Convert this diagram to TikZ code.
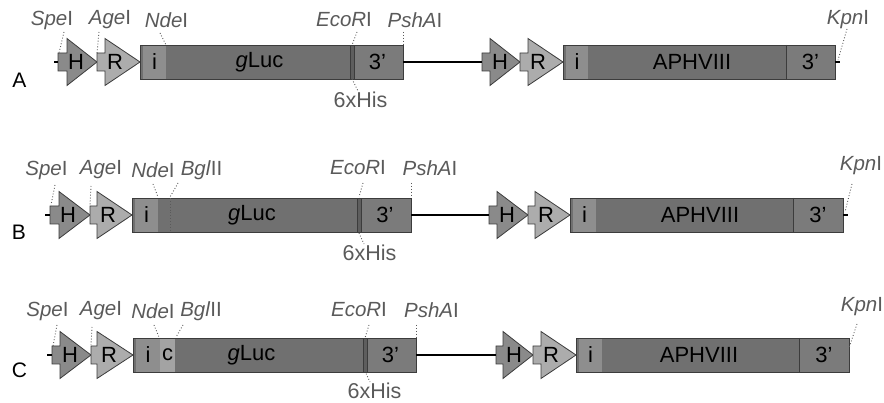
\documentclass[tikz,border=0pt]{standalone}
\usepackage{fontspec}
\setmainfont{Liberation Sans}
\begin{document}
\begin{tikzpicture}[x=1pt,y=-1pt,
  seg/.style={fill=#1,draw=none,rectangle,inner sep=0pt,outer sep=0pt,minimum height=34pt,anchor=west,font=\fontsize{22}{25}\selectfont},
  boxline/.style={draw=cborder,line width=0.9pt},
  promo/.style={draw=cborder,line width=0.8pt,fill=#1},
  txt/.style={inner sep=0pt,font=\fontsize{22}{25}\selectfont},
  site/.style={inner sep=0pt,text=clabel,font=\fontsize{20.5}{24}\selectfont},
  row/.style={inner sep=0pt,font=\fontsize{21}{24}\selectfont},
  leader/.style={draw=clabel,dotted,line width=0.9pt},
  link/.style={draw=black,line width=2.6pt},
  hisbar/.style={draw=cborder,fill=chis,line width=0.8pt}]
\definecolor{cgl}{HTML}{707070}
\definecolor{ci}{HTML}{8E8E8E}
\definecolor{cthree}{HTML}{7B7B7B}
\definecolor{cH}{HTML}{8A8A8A}
\definecolor{cR}{HTML}{ACACAC}
\definecolor{cc}{HTML}{A3A3A3}
\definecolor{cborder}{HTML}{3C3C3C}
\definecolor{clabel}{HTML}{5A5A5A}
\definecolor{chis}{HTML}{5E5E5E}
\useasboundingbox (0,0) rectangle (884,403);

% promoter shape: name, x0, xr, xa, cy, text, fill
\newcommand\prom[7]{%
  \coordinate (#1in) at (#2,#5);
  \draw[promo=#7] (#2,#5-9) -- (#3,#5-9) -- (#3,#5-23.5) -- (#4,#5) -- (#3,#5+23.5) -- (#3,#5+9) -- (#2,#5+9) -- cycle;
  \node[txt] (#1) at (#2+18,#5) {#6};}

% box1: name, xb, xi, xe, x3, cy, gluc text x
\newcommand\boxone[7]{%
  \node[seg=cgl,minimum width={(#4-#2)*1pt}] (#1body) at (#2,#6) {};
  \node[seg=ci,minimum width={(#3-#2-3)*1pt}] (#1i) at (#2+3,#6) {i};
  \node[txt] (#1g) at (#7,#6) {\textit{g}Luc};
  \node[seg=cthree,minimum width={(#5-#4)*1pt}] (#1three) at (#4,#6) {3’};
  \draw[boxline] (#1body.north west) rectangle (#1three.south east);
  \draw[hisbar] (#4-2,#6-17) rectangle (#4+2,#6+17);}

% box2: name, xb, xi, xa, x3, cy, aph text x
\newcommand\boxtwo[7]{%
  \node[seg=cgl,minimum width={(#4-#2)*1pt}] (#1body) at (#2,#6) {};
  \node[seg=ci,minimum width={(#3-#2-3)*1pt}] (#1i) at (#2+3,#6) {i};
  \node[txt] (#1aph) at (#7,#6) {APHVIII};
  \node[seg=cthree,minimum width={(#5-#4)*1pt}] (#1three) at (#4,#6) {3’};
  \draw[boxline] (#1body.north west) rectangle (#1three.south east);
  \draw[cborder,line width=0.9pt] (#1three.north west) -- (#1three.south west);}

% ================= Row A =================
\node[row] (labA) at (19.5,80) {A};
\coordinate (tickA) at (54,62);
\prom{HA}{58}{67}{97}{62}{H}{cH}
\prom{RA}{97}{105}{140}{62}{R}{cR}
\boxone{bA}{140}{166}{352}{403}{62}{259.5}
\prom{HAb}{482}{490}{520}{62}{H}{cH}
\prom{RAb}{520}{528}{563}{62}{R}{cR}
\boxtwo{cA}{563}{588}{786}{835}{62}{692}
\coordinate (kendA) at (840,62);
\draw[link] (tickA) -- (HAin);
\draw[link] (bAthree.east) -- (HAbin);
\draw[link] (cAthree.east) -- (kendA);

\node[site] (speA) at (52,20) {\textit{Spe}I};
\node[site] (ageA) at (110,20) {\textit{Age}I};
\node[site] (ndeA) at (166.5,20) {\textit{Nde}I};
\node[site] (ecoA) at (344,20) {\textit{EcoR}I};
\node[site] (pshA) at (415,20) {\textit{PshA}I};
\node[site,font=\fontsize{21.5}{24}\selectfont] (hisA) at (360.5,100) {6xHis};
\node[site] (kpnA) at (848,20) {\textit{Kpn}I};
\coordinate (s1a) at (64,32); \coordinate (s1b) at (59,53);
\coordinate (s2a) at (99,32); \coordinate (s2b) at (97,53);
\coordinate (s3a) at (160,33); \coordinate (s3b) at (166,45);
\coordinate (s4a) at (357,32); \coordinate (s4b) at (352,45);
\coordinate (s5a) at (403,32); \coordinate (s5b) at (403,45);
\coordinate (s6a) at (352,79); \coordinate (s6b) at (358,91);
\coordinate (s7a) at (847,29); \coordinate (s7b) at (838,60);
\foreach \i in {1,...,7} {\draw[leader] (s\i a) -- (s\i b);}

% ================= Row B =================
\node[row] (labB) at (19,232) {B};
\coordinate (tickB) at (45,215);
\prom{HB}{50}{59}{90}{215}{H}{cH}
\prom{RB}{90}{97}{132}{215}{R}{cR}
\boxone{bB}{132}{158}{359}{411}{215}{252}
\prom{HBb}{489}{497}{528}{215}{H}{cH}
\prom{RBb}{528}{535}{570}{215}{R}{cR}
\boxtwo{cB}{570}{596}{793}{843}{215}{700}
\coordinate (kendB) at (848,215);
\draw[link] (tickB) -- (HBin);
\draw[link] (bBthree.east) -- (HBbin);
\draw[link] (cBthree.east) -- (kendB);
\draw[leader] (170,198) -- (170,232);

\node[site] (speB) at (46.5,170) {\textit{Spe}I};
\node[site] (ageB) at (101,170) {\textit{Age}I};
\node[site] (ndeB) at (153,170) {\textit{Nde}I};
\node[site] (bglB) at (201.5,170) {\textit{Bgl}II};
\node[site] (ecoB) at (358,168) {\textit{EcoR}I};
\node[site] (pshB) at (430,168) {\textit{PshA}I};
\node[site,font=\fontsize{21.5}{24}\selectfont] (hisB) at (369.5,253) {6xHis};
\node[site] (kpnB) at (861,166) {\textit{Kpn}I};
\coordinate (t1a) at (55,185); \coordinate (t1b) at (51,205);
\coordinate (t2a) at (91,186); \coordinate (t2b) at (90,205);
\coordinate (t3a) at (153,184); \coordinate (t3b) at (158,197);
\coordinate (t4a) at (178,183); \coordinate (t4b) at (170,197);
\coordinate (t5a) at (363,183); \coordinate (t5b) at (359,197);
\coordinate (t6a) at (411,183); \coordinate (t6b) at (411,197);
\coordinate (t7a) at (359,233); \coordinate (t7b) at (364,244);
\coordinate (t8a) at (852,184); \coordinate (t8b) at (845,212);
\foreach \i in {1,...,8} {\draw[leader] (t\i a) -- (t\i b);}

% ================= Row C =================
\node[row] (labC) at (19.5,370) {C};
\coordinate (tickC) at (47,355);
\prom{HC}{52}{60}{91}{355}{H}{cH}
\prom{RC}{91}{97}{133}{355}{R}{cR}
\boxone{bC}{133}{160}{365}{416}{355}{251.5}
\node[seg=cc,minimum width=15pt] (bCc) at (160,355) {c};
\draw[boxline] (bCbody.north west) -- (bCbody.north east) (bCbody.south west) -- (bCbody.south east);
\prom{HCb}{496}{503}{533}{355}{H}{cH}
\prom{RCb}{533}{541}{576}{355}{R}{cR}
\boxtwo{cC}{576}{602}{799}{849}{355}{699}
\draw[link] (tickC) -- (HCin);
\draw[link] (bCthree.east) -- (HCbin);

\node[site] (speC) at (47.5,311) {\textit{Spe}I};
\node[site] (ageC) at (101,311) {\textit{Age}I};
\node[site] (ndeC) at (153,311) {\textit{Nde}I};
\node[site] (bglC) at (201,311) {\textit{Bgl}II};
\node[site] (ecoC) at (359,310) {\textit{EcoR}I};
\node[site] (pshC) at (431.5,310) {\textit{PshA}I};
\node[site,font=\fontsize{21.5}{24}\selectfont] (hisC) at (374.5,391) {6xHis};
\node[site] (kpnC) at (862,307) {\textit{Kpn}I};
\coordinate (u1a) at (57,325); \coordinate (u1b) at (53,346);
\coordinate (u2a) at (92,327); \coordinate (u2b) at (91,345);
\coordinate (u3a) at (154,325); \coordinate (u3b) at (159,337);
\coordinate (u4a) at (183,325); \coordinate (u4b) at (176,337);
\coordinate (u5a) at (369,325); \coordinate (u5b) at (365,338);
\coordinate (u6a) at (416,325); \coordinate (u6b) at (416,338);
\coordinate (u7a) at (365,371); \coordinate (u7b) at (370,382);
\coordinate (u8a) at (857,324); \coordinate (u8b) at (849,348);
\foreach \i in {1,...,8} {\draw[leader] (u\i a) -- (u\i b);}
\end{tikzpicture}
\end{document}
